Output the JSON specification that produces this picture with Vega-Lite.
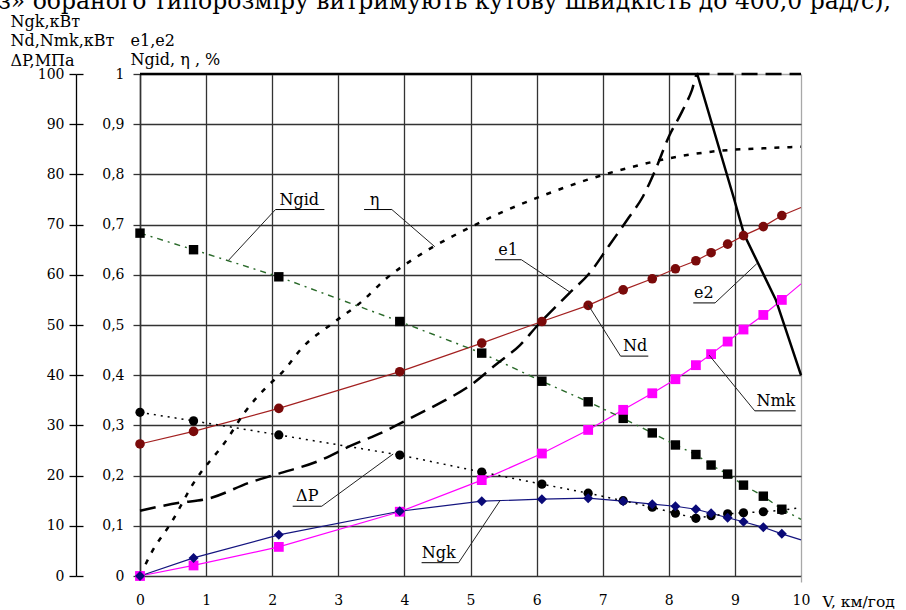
{
  "$schema": "https://vega.github.io/schema/vega-lite/v6.json",
  "width": 661,
  "height": 502,
  "autosize": {"type": "none"},
  "padding": {"left": 140, "top": 74, "right": 105, "bottom": 34},
  "background": "white",
  "view": {"stroke": null},
  "title": {
    "text": "з» обраного типорозміру витримують кутову швидкість до 400,0 рад/с),",
    "orient": "top",
    "anchor": "start",
    "frame": "group",
    "font": "DejaVu Serif",
    "fontSize": 23.5,
    "fontWeight": "normal",
    "color": "#000",
    "baseline": "alphabetic",
    "dx": -142,
    "dy": 19,
    "offset": 0
  },
  "config": {
    "font": "DejaVu Serif",
    "axis": {
      "labelFont": "DejaVu Serif",
      "labelColor": "#000",
      "labelFontSize": 14,
      "titleFont": "DejaVu Serif",
      "titleColor": "#000",
      "titleFontWeight": "normal",
      "titleFontSize": 16
    }
  },
  "datasets": {
    "meas": [
      {"s": "dP", "V": 0, "v": 32.6}, {"s": "dP", "V": 0.81, "v": 30.9}, {"s": "dP", "V": 2.1, "v": 28.1}, {"s": "dP", "V": 3.93, "v": 24.1},
      {"s": "dP", "V": 5.17, "v": 20.7}, {"s": "dP", "V": 6.08, "v": 18.3}, {"s": "dP", "V": 6.78, "v": 16.5}, {"s": "dP", "V": 7.31, "v": 15.0},
      {"s": "dP", "V": 7.75, "v": 13.7}, {"s": "dP", "V": 8.1, "v": 12.5}, {"s": "dP", "V": 8.41, "v": 11.5}, {"s": "dP", "V": 8.64, "v": 12.0},
      {"s": "dP", "V": 8.89, "v": 12.4}, {"s": "dP", "V": 9.13, "v": 12.6}, {"s": "dP", "V": 9.43, "v": 12.8}, {"s": "dP", "V": 9.71, "v": 13.1},
      {"s": "dP", "V": 10, "v": 13.6},
      {"s": "Ngid", "V": 0, "v": 68.3}, {"s": "Ngid", "V": 0.81, "v": 65.0}, {"s": "Ngid", "V": 2.1, "v": 59.6}, {"s": "Ngid", "V": 3.93, "v": 50.7},
      {"s": "Ngid", "V": 5.17, "v": 44.4}, {"s": "Ngid", "V": 6.08, "v": 38.8}, {"s": "Ngid", "V": 6.78, "v": 34.7}, {"s": "Ngid", "V": 7.31, "v": 31.4},
      {"s": "Ngid", "V": 7.75, "v": 28.5}, {"s": "Ngid", "V": 8.1, "v": 26.1}, {"s": "Ngid", "V": 8.41, "v": 24.2}, {"s": "Ngid", "V": 8.64, "v": 22.1},
      {"s": "Ngid", "V": 8.89, "v": 20.3}, {"s": "Ngid", "V": 9.13, "v": 18.1}, {"s": "Ngid", "V": 9.43, "v": 15.9}, {"s": "Ngid", "V": 9.71, "v": 13.3},
      {"s": "Ngid", "V": 10, "v": 11.3},
      {"s": "Nd", "V": 0, "v": 26.3}, {"s": "Nd", "V": 0.81, "v": 28.8}, {"s": "Nd", "V": 2.1, "v": 33.4}, {"s": "Nd", "V": 3.93, "v": 40.7},
      {"s": "Nd", "V": 5.17, "v": 46.4}, {"s": "Nd", "V": 6.08, "v": 50.7}, {"s": "Nd", "V": 6.78, "v": 53.9}, {"s": "Nd", "V": 7.31, "v": 57.0},
      {"s": "Nd", "V": 7.75, "v": 59.2}, {"s": "Nd", "V": 8.1, "v": 61.2}, {"s": "Nd", "V": 8.41, "v": 62.8}, {"s": "Nd", "V": 8.64, "v": 64.4},
      {"s": "Nd", "V": 8.89, "v": 66.1}, {"s": "Nd", "V": 9.13, "v": 67.8}, {"s": "Nd", "V": 9.43, "v": 69.6}, {"s": "Nd", "V": 9.71, "v": 71.8},
      {"s": "Nd", "V": 10, "v": 73.4},
      {"s": "Nmk", "V": 0, "v": 0}, {"s": "Nmk", "V": 0.81, "v": 2.1}, {"s": "Nmk", "V": 2.1, "v": 5.8}, {"s": "Nmk", "V": 3.93, "v": 12.8},
      {"s": "Nmk", "V": 5.17, "v": 19.1}, {"s": "Nmk", "V": 6.08, "v": 24.4}, {"s": "Nmk", "V": 6.78, "v": 29.1}, {"s": "Nmk", "V": 7.31, "v": 33.1},
      {"s": "Nmk", "V": 7.75, "v": 36.4}, {"s": "Nmk", "V": 8.1, "v": 39.2}, {"s": "Nmk", "V": 8.41, "v": 42.0}, {"s": "Nmk", "V": 8.64, "v": 44.2},
      {"s": "Nmk", "V": 8.89, "v": 46.7}, {"s": "Nmk", "V": 9.13, "v": 49.1}, {"s": "Nmk", "V": 9.43, "v": 52.0}, {"s": "Nmk", "V": 9.71, "v": 55.0},
      {"s": "Nmk", "V": 10, "v": 58.2},
      {"s": "Ngk", "V": 0, "v": 0}, {"s": "Ngk", "V": 0.81, "v": 3.6}, {"s": "Ngk", "V": 2.1, "v": 8.2}, {"s": "Ngk", "V": 3.93, "v": 12.9},
      {"s": "Ngk", "V": 5.17, "v": 14.9}, {"s": "Ngk", "V": 6.08, "v": 15.3}, {"s": "Ngk", "V": 6.78, "v": 15.5}, {"s": "Ngk", "V": 7.31, "v": 14.9},
      {"s": "Ngk", "V": 7.75, "v": 14.3}, {"s": "Ngk", "V": 8.1, "v": 13.9}, {"s": "Ngk", "V": 8.41, "v": 13.3}, {"s": "Ngk", "V": 8.64, "v": 12.5},
      {"s": "Ngk", "V": 8.89, "v": 11.6}, {"s": "Ngk", "V": 9.13, "v": 10.8}, {"s": "Ngk", "V": 9.43, "v": 9.7}, {"s": "Ngk", "V": 9.71, "v": 8.4},
      {"s": "Ngk", "V": 10, "v": 7.2}
    ],
    "curves": [
      {"s": "e1", "V": 0, "v": 13.0}, {"s": "e1", "V": 0.6, "v": 14.6}, {"s": "e1", "V": 1.0, "v": 15.3}, {"s": "e1", "V": 1.7, "v": 18.8},
      {"s": "e1", "V": 2.1, "v": 20.4}, {"s": "e1", "V": 2.7, "v": 22.9}, {"s": "e1", "V": 3.2, "v": 26.0}, {"s": "e1", "V": 3.7, "v": 28.8},
      {"s": "e1", "V": 4.1, "v": 31.5}, {"s": "e1", "V": 4.5, "v": 34.2}, {"s": "e1", "V": 5.0, "v": 38.0}, {"s": "e1", "V": 5.4, "v": 42.3},
      {"s": "e1", "V": 5.75, "v": 46.0}, {"s": "e1", "V": 6.0, "v": 49.7}, {"s": "e1", "V": 6.5, "v": 56.4}, {"s": "e1", "V": 6.8, "v": 60.3},
      {"s": "e1", "V": 7.1, "v": 65.9}, {"s": "e1", "V": 7.4, "v": 71.5}, {"s": "e1", "V": 7.6, "v": 75.4}, {"s": "e1", "V": 7.8, "v": 81.0},
      {"s": "e1", "V": 8.0, "v": 87.5}, {"s": "e1", "V": 8.2, "v": 92.5}, {"s": "e1", "V": 8.35, "v": 96.8}, {"s": "e1", "V": 8.43, "v": 100},
      {"s": "e1", "V": 10, "v": 100},
      {"s": "eta", "V": 0, "v": 0}, {"s": "eta", "V": 0.18, "v": 4.8}, {"s": "eta", "V": 0.48, "v": 10.8}, {"s": "eta", "V": 0.81, "v": 18.5},
      {"s": "eta", "V": 1.31, "v": 27.1}, {"s": "eta", "V": 1.59, "v": 32.7}, {"s": "eta", "V": 1.92, "v": 37.7}, {"s": "eta", "V": 2.14, "v": 40.4},
      {"s": "eta", "V": 2.47, "v": 45.7}, {"s": "eta", "V": 2.92, "v": 50.4}, {"s": "eta", "V": 3.33, "v": 54.4}, {"s": "eta", "V": 3.73, "v": 59.3},
      {"s": "eta", "V": 4.19, "v": 63.6}, {"s": "eta", "V": 4.44, "v": 65.6}, {"s": "eta", "V": 4.97, "v": 69.3}, {"s": "eta", "V": 5.5, "v": 72.6},
      {"s": "eta", "V": 6.08, "v": 75.7}, {"s": "eta", "V": 6.76, "v": 78.9}, {"s": "eta", "V": 7.36, "v": 81.2}, {"s": "eta", "V": 8.12, "v": 83.5},
      {"s": "eta", "V": 8.77, "v": 84.7}, {"s": "eta", "V": 9.43, "v": 85.2}, {"s": "eta", "V": 10, "v": 85.5},
      {"s": "e2", "V": 0, "v": 100}, {"s": "e2", "V": 8.43, "v": 100}, {"s": "e2", "V": 8.99, "v": 75}, {"s": "e2", "V": 9.14, "v": 68},
      {"s": "e2", "V": 9.62, "v": 55}, {"s": "e2", "V": 10, "v": 40}
    ],
    "notes": [
      {"label": "Ngid", "x1": 2.05, "x2": 2.79, "uy": 73.0, "sx": 2.05, "px": 1.34, "py": 62.9, "tx": 2.41},
      {"label": "η", "x1": 3.39, "x2": 3.81, "uy": 73.0, "sx": 3.81, "px": 4.46, "py": 65.6, "tx": 3.55},
      {"label": "e1", "x1": 5.37, "x2": 5.77, "uy": 63.0, "sx": 5.77, "px": 6.51, "py": 56.5, "tx": 5.57},
      {"label": "e2", "x1": 8.37, "x2": 8.70, "uy": 54.4, "sx": 8.70, "px": 9.33, "py": 62.2, "tx": 8.53},
      {"label": "Nd", "x1": 7.27, "x2": 7.69, "uy": 43.8, "sx": 7.27, "px": 6.78, "py": 54.0, "tx": 7.49},
      {"label": "Nmk", "x1": 9.30, "x2": 9.92, "uy": 32.9, "sx": 9.30, "px": 8.61, "py": 44.0, "tx": 9.62},
      {"label": "ΔP", "x1": 2.31, "x2": 2.75, "uy": 13.9, "sx": 2.75, "px": 3.83, "py": 24.3, "tx": 2.53},
      {"label": "Ngk", "x1": 4.26, "x2": 4.82, "uy": 2.65, "sx": 4.82, "px": 5.45, "py": 15.1, "tx": 4.52}
    ]
  },
  "layer": [
    {
      "data": {"name": "meas"},
      "transform": [{"filter": "datum.s == 'Nd'"}],
      "mark": {"type": "line", "color": "#a32020", "strokeWidth": 1.2},
      "encoding": {
        "x": {
          "field": "V", "type": "quantitative",
          "scale": {"domain": [0, 10], "nice": false, "zero": false},
          "axis": {
            "orient": "bottom",
            "values": [0, 1, 2, 3, 4, 5, 6, 7, 8, 9, 10],
            "grid": true,
            "gridColor": {"condition": {"test": "datum.value == 10", "value": "#a8a8a8"}, "value": "#333333"},
            "gridWidth": 1.3,
            "domain": false,
            "ticks": false,
            "labels": false,
            "title": null
          }
        },
        "y": {
          "field": "v", "type": "quantitative",
          "scale": {"domain": [0, 100], "nice": false, "zero": true},
          "axis": {
            "orient": "left",
            "offset": 0,
            "values": [0, 10, 20, 30, 40, 50, 60, 70, 80, 90, 100],
            "grid": true,
            "gridColor": {"condition": {"test": "datum.value == 100", "value": "#a8a8a8"}, "value": "#333333"},
            "gridWidth": 1.3,
            "domain": true,
            "domainColor": "#333333",
            "domainWidth": 1.5,
            "ticks": true,
            "tickSize": 7,
            "tickWidth": 1.3,
            "tickColor": "#333333",
            "labelExpr": "datum.value == 0 ? '0' : datum.value == 100 ? '1' : replace(format(datum.value / 100, '.1f'), '.', ',')",
            "labelPadding": 9,
            "title": ["e1,e2", "Ngid, η , %"],
            "titleX": -10,
            "titleY": -29,
            "titleAngle": 0,
            "titleAlign": "left",
            "titleBaseline": "alphabetic",
            "titleLineHeight": 19
          }
        }
      }
    },
    {
      "data": {"name": "meas"},
      "transform": [{"filter": "datum.s == 'Nmk'"}],
      "mark": {"type": "line", "color": "#ff00ff", "strokeWidth": 1.2},
      "encoding": {
        "x": {
          "field": "V", "type": "quantitative",
          "axis": {
            "orient": "bottom",
            "values": [0, 1, 2, 3, 4, 5, 6, 7, 8, 9, 10],
            "grid": false,
            "domain": false,
            "ticks": false,
            "labelFlush": false,
            "labelPadding": 17,
            "labelFontSize": 14,
            "title": "V, км/год",
            "titleX": 682,
            "titleY": 30,
            "titleAlign": "left",
            "titleBaseline": "alphabetic",
            "titleFontSize": 15.5
          }
        },
        "y": {
          "field": "v", "type": "quantitative",
          "axis": {
            "orient": "left",
            "offset": 64,
            "values": [0, 10, 20, 30, 40, 50, 60, 70, 80, 90, 100],
            "grid": false,
            "domain": true,
            "domainColor": "#000",
            "domainWidth": 1.3,
            "ticks": true,
            "tickSize": 7,
            "tickWidth": 1.3,
            "tickColor": "#000",
            "labelPadding": 5,
            "title": ["Ngk,кВт", "Nd,Nmk,кВт", "ΔP,МПа"],
            "titleX": -66,
            "titleY": -48,
            "titleAngle": 0,
            "titleAlign": "left",
            "titleBaseline": "alphabetic",
            "titleLineHeight": 19.5
          }
        }
      }
    },
    {
      "data": {"name": "meas"},
      "transform": [{"filter": "datum.s == 'Ngk'"}],
      "mark": {"type": "line", "color": "#14147f", "strokeWidth": 1.2},
      "encoding": {
        "x": {
          "field": "V", "type": "quantitative",
          "axis": {
            "orient": "bottom",
            "values": [10],
            "grid": false,
            "domain": false,
            "labels": false,
            "ticks": true,
            "tickSize": 6,
            "tickWidth": 1.3,
            "tickColor": "#a8a8a8",
            "title": null
          }
        },
        "y": {
          "field": "v", "type": "quantitative",
          "axis": {
            "orient": "left",
            "offset": 57,
            "values": [0, 10, 20, 30, 40, 50, 60, 70, 80, 90, 100],
            "grid": false,
            "domain": false,
            "labels": false,
            "ticks": true,
            "tickSize": 7,
            "tickWidth": 1.3,
            "tickColor": "#000",
            "title": null
          }
        }
      }
    },
    {
      "data": {"name": "meas"},
      "transform": [{"filter": "datum.s == 'Ngid'"}],
      "mark": {"type": "line", "color": "#2a6a2a", "strokeWidth": 1.4, "strokeDash": [6, 5, 2, 5]},
      "encoding": {
        "x": {"field": "V", "type": "quantitative", "axis": null},
        "y": {"field": "v", "type": "quantitative", "axis": null}
      }
    },
    {
      "data": {"name": "meas"},
      "transform": [{"filter": "datum.s == 'dP'"}],
      "mark": {"type": "line", "color": "#000", "strokeWidth": 1.5, "strokeDash": [2, 5]},
      "encoding": {
        "x": {"field": "V", "type": "quantitative", "axis": null},
        "y": {"field": "v", "type": "quantitative", "axis": null}
      }
    },
    {
      "data": {"name": "curves"},
      "transform": [{"filter": "datum.s == 'e1'"}],
      "mark": {"type": "line", "color": "#000", "strokeWidth": 2.5, "strokeDash": [16, 8], "interpolate": "monotone"},
      "encoding": {
        "x": {"field": "V", "type": "quantitative", "axis": null},
        "y": {"field": "v", "type": "quantitative", "axis": null}
      }
    },
    {
      "data": {"name": "curves"},
      "transform": [{"filter": "datum.s == 'eta'"}],
      "mark": {"type": "line", "color": "#000", "strokeWidth": 2.5, "strokeDash": [5, 8], "interpolate": "monotone"},
      "encoding": {
        "x": {"field": "V", "type": "quantitative", "axis": null},
        "y": {"field": "v", "type": "quantitative", "axis": null}
      }
    },
    {
      "data": {"name": "curves"},
      "transform": [{"filter": "datum.s == 'e2'"}],
      "mark": {"type": "line", "color": "#000", "strokeWidth": 2.5},
      "encoding": {
        "x": {"field": "V", "type": "quantitative", "axis": null},
        "y": {"field": "v", "type": "quantitative", "axis": null}
      }
    },
    {
      "data": {"name": "meas"},
      "transform": [{"filter": "datum.V < 10"}],
      "mark": {"type": "point", "filled": true, "opacity": 1, "strokeWidth": 0},
      "encoding": {
        "x": {"field": "V", "type": "quantitative", "axis": null},
        "y": {"field": "v", "type": "quantitative", "axis": null},
        "color": {
          "field": "s", "type": "nominal", "legend": null,
          "scale": {"domain": ["dP", "Ngid", "Nd", "Nmk", "Ngk"], "range": ["#000000", "#000000", "#7a0a0a", "#ff00ff", "#0a0a78"]}
        },
        "shape": {
          "field": "s", "type": "nominal", "legend": null,
          "scale": {"domain": ["dP", "Ngid", "Nd", "Nmk", "Ngk"], "range": ["circle", "square", "circle", "square", "diamond"]}
        },
        "size": {
          "field": "s", "type": "nominal", "legend": null,
          "scale": {"domain": ["dP", "Ngid", "Nd", "Nmk", "Ngk"], "range": [85, 100, 70, 100, 170]}
        }
      }
    },
    {
      "data": {"name": "notes"},
      "mark": {"type": "rule", "color": "#000", "strokeWidth": 1},
      "encoding": {
        "x": {"field": "x1", "type": "quantitative", "axis": null},
        "x2": {"field": "x2"},
        "y": {"field": "uy", "type": "quantitative", "axis": null}
      }
    },
    {
      "data": {"name": "notes"},
      "mark": {"type": "rule", "color": "#222", "strokeWidth": 1},
      "encoding": {
        "x": {"field": "sx", "type": "quantitative", "axis": null},
        "y": {"field": "uy", "type": "quantitative", "axis": null},
        "x2": {"field": "px"},
        "y2": {"field": "py"}
      }
    },
    {
      "data": {"name": "notes"},
      "mark": {"type": "text", "font": "DejaVu Serif", "fontSize": 16, "color": "#000", "align": "center", "baseline": "alphabetic", "dy": -5},
      "encoding": {
        "x": {"field": "tx", "type": "quantitative", "axis": null},
        "y": {"field": "uy", "type": "quantitative", "axis": null},
        "text": {"field": "label"}
      }
    }
  ],
  "resolve": {"scale": {"y": "shared", "x": "shared"}, "axis": {"y": "independent", "x": "independent"}}
}
